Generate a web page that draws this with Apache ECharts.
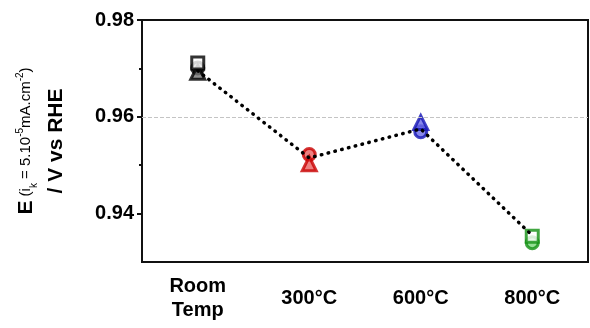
<!DOCTYPE html>
<html><head><meta charset="utf-8">
<script src="https://cdn.jsdelivr.net/npm/echarts@6/dist/echarts.min.js"></script>
<style>html,body{margin:0;padding:0;background:#fff}#c{width:590px;height:328px}</style>
</head><body><div id="c"></div>
<script>
const categories = ['Room\nTemp', '300°C', '600°C', '800°C'];
const squareValues = [0.9711, null, null, 0.9353];
const circleValues = [0.9701, 0.9522, 0.9569, 0.9340];
const triangleValues = [0.9692, 0.9503, 0.9588, null];
const meanValues = [0.9695, 0.9515, 0.9575, 0.9355];
const yMajorTicks = [0.94, 0.96, 0.98];
const yMinorTicks = [0.95, 0.97];
const referenceLevel = 0.96;
const yMin = 0.93, yMax = 0.98;

const strokeColors = ['#000000', '#c80000', '#1414b4', '#129012'];
const fillColors = ['#777777', '#e86060', '#6a6ae6', '#7ad67a'];
const FONT = 'Liberation Sans, Arial, Helvetica, sans-serif';

function pts(values, fillFn) {
  return values.map((v, i) => v == null ? null : {
    value: [i, v],
    itemStyle: { color: fillFn(i), borderColor: strokeColors[i], borderWidth: 3 }
  }).filter(d => d);
}

const chart = echarts.init(document.getElementById('c'), null, { renderer: 'canvas' });
chart.setOption({
  animation: false,
  backgroundColor: '#fff',
  grid: { left: 142, right: 2, top: 20, bottom: 66, show: true, borderColor: '#111', borderWidth: 2, backgroundColor: 'transparent', containLabel: false, outerBoundsMode: 'none' },
  xAxis: {
    type: 'category', data: categories, boundaryGap: true,
    axisLine: { lineStyle: { color: '#111', width: 2 } },
    axisTick: { alignWithLabel: true, length: 5, lineStyle: { color: '#111', width: 2 } },
    axisLabel: { color: '#000', fontFamily: FONT, fontWeight: 'bold', fontSize: 20, lineHeight: 24, margin: 36, verticalAlign: 'middle', interval: 0 },
    splitLine: { show: false }
  },
  yAxis: [{
    type: 'value', min: yMin, max: yMax,
    axisLine: { show: true, lineStyle: { color: '#111', width: 2 } },
    axisTick: { show: true, length: 5, customValues: yMajorTicks, lineStyle: { color: '#111', width: 2 } },
    axisLabel: { customValues: yMajorTicks, color: '#000', fontFamily: FONT, fontWeight: 'bold', fontSize: 20, margin: 8, formatter: v => v.toFixed(2) },
    splitLine: { show: false },
    name: '{E|E}{s| (i}{sub|k}{s| = 5.10}{sup|-5}{s|mA.cm}{sup|-2}{s|)}\n{b|/ V vs RHE}',
    nameLocation: 'middle', nameRotate: 90, nameGap: 71,
    nameTextStyle: {
      color: '#000', fontFamily: FONT, align: 'center',
      rich: {
        E: { fontSize: 21, fontWeight: 'bold', fontFamily: FONT, color: '#000', lineHeight: 30 },
        s: { fontSize: 15, fontFamily: FONT, color: '#000', lineHeight: 30 },
        sub: { fontSize: 10, fontFamily: FONT, color: '#000', verticalAlign: 'bottom', lineHeight: 30, padding: [0, 0, 2, 0] },
        sup: { fontSize: 10, fontFamily: FONT, color: '#000', verticalAlign: 'top', lineHeight: 30, padding: [4, 0, 0, 0] },
        b: { fontSize: 21, fontWeight: 'bold', fontFamily: FONT, color: '#000', lineHeight: 30 }
      }
    }
  }, {
    type: 'value', min: yMin, max: yMax, position: 'left',
    axisLine: { show: false },
    axisTick: { show: true, length: 3, customValues: yMinorTicks, lineStyle: { color: '#111', width: 2 } },
    axisLabel: { show: false, customValues: yMinorTicks },
    splitLine: { show: false }
  }],
  series: [
    {
      type: 'scatter', symbol: 'circle', symbolSize: 12, z: 2,
      data: pts(circleValues, i => fillColors[i]),
      markLine: {
        silent: true, symbol: 'none', label: { show: false },
        lineStyle: { color: '#c4c4c4', type: 'dashed', width: 1 },
        data: [{ yAxis: referenceLevel }]
      }
    },
    { type: 'scatter', symbol: 'triangle', symbolSize: 14, z: 3, data: pts(triangleValues, i => fillColors[i]) },
    { type: 'scatter', symbol: 'rect', symbolSize: 12, z: 4, data: pts(squareValues, () => '#ffffff') },
    {
      type: 'line', data: meanValues, symbol: 'none', z: 5,
      lineStyle: { color: '#000', width: 3.5, type: [0.5, 6.5], cap: 'round' }
    }
  ]
});
</script></body></html>
